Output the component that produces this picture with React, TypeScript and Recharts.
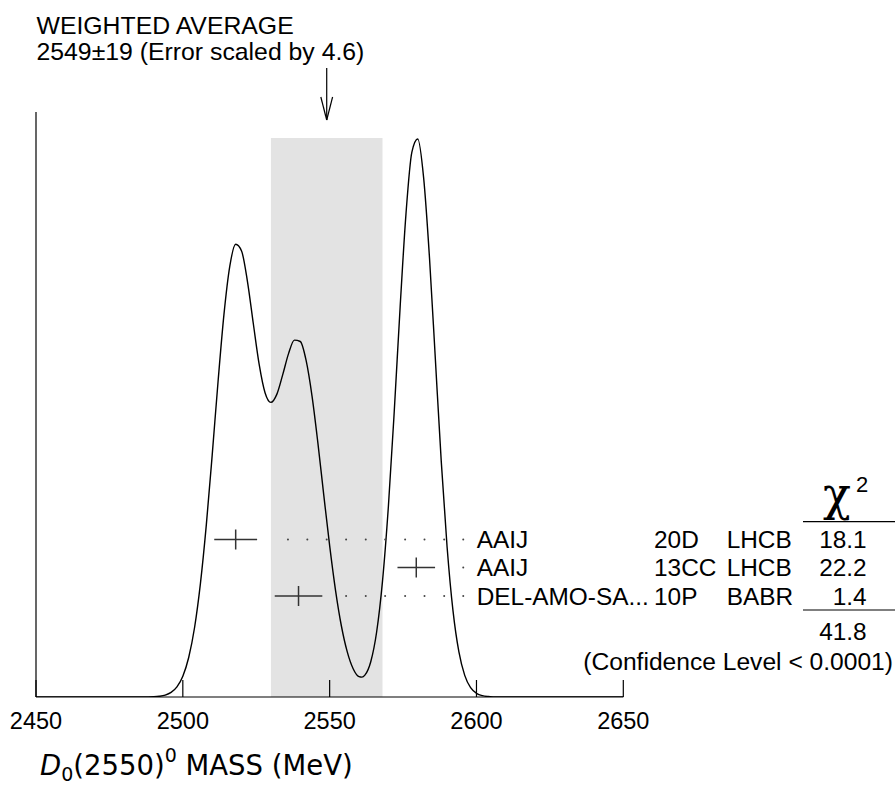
import React from 'react';
import { ComposedChart, Line, XAxis, YAxis, ReferenceArea, ReferenceLine, Scatter, ErrorBar } from 'recharts';

// ---- data ----
const massTicks = [2450, 2500, 2550, 2600, 2650];

const curveMass = [2450, 2470, 2480, 2484, 2486, 2488, 2490, 2492, 2494, 2496, 2498, 2500, 2502, 2504, 2506, 2508, 2510, 2512, 2514, 2516, 2518, 2520, 2522, 2524, 2526, 2528, 2530, 2532, 2534, 2536, 2538, 2540, 2542, 2544, 2546, 2548, 2550, 2552, 2554, 2556, 2558, 2560, 2561, 2562, 2564, 2566, 2568, 2570, 2572, 2574, 2576, 2578, 2580, 2582, 2584, 2586, 2588, 2590, 2592, 2594, 2596, 2598, 2600, 2602, 2604, 2606, 2608, 2610, 2630, 2650];
const curveHeight = [0, 0, 0, 0.01, 0.03, 0.09, 0.27, 0.75, 1.9, 4.6, 10.1, 20.8, 39.5, 69.5, 113.6, 172.1, 241.9, 315.5, 382.4, 430.9, 452.7, 446.0, 415.7, 373.5, 332.6, 304.3, 294.6, 302.6, 322.1, 343.4, 356.9, 355.5, 336.3, 300.9, 253.9, 201.9, 151.3, 106.7, 71.0, 45.1, 28.3, 20.4, 19.9, 21.9, 35.3, 65.0, 115.9, 190.5, 285.7, 389.8, 483.4, 544.9, 558.0, 519.4, 439.3, 337.7, 235.9, 149.8, 86.4, 45.3, 21.6, 9.3, 3.7, 1.3, 0.43, 0.13, 0.03, 0, 0, 0];

const avgMass = 2549;
const avgErr = 19;
const errScale = 4.6;
const bandTop = 559;

const measurementNames = ['AAIJ', 'AAIJ', 'DEL-AMO-SA...'];
const measurementRefs = ['20D', '13CC', '10P'];
const measurementExps = ['LHCB', 'LHCB', 'BABR'];
const measurementValues = [2518.0, 2579.5, 2539.4];
const measurementErrors = [7.3, 6.4, 8.1];
const measurementRowLevel = [157.5, 129.5, 101];
const chi2Values = ['18.1', '22.2', '1.4'];
const chi2Total = '41.8';
const confidenceText = '(Confidence Level < 0.0001)';

const leaderDots = [
  [2535.8, 2542.4, 2549.0, 2555.6, 2562.3, 2568.9, 2575.7, 2582.3, 2589.0, 2595.5],
  [2595.5],
  [2555.6, 2562.3, 2568.9, 2575.7, 2582.3, 2589.0, 2595.5],
];

// ---- derived tables ----
const curveData = curveMass.map((m, i) => ({ m, y: curveHeight[i] }));
const crossData = measurementValues.map((m, i) => ({ m, y: measurementRowLevel[i], err: measurementErrors[i] }));
const dotData = leaderDots.flatMap((row, i) => row.map((m) => ({ m, y: measurementRowLevel[i] })));

const W = 895;
const H = 793;
const FONT = '"Liberation Sans", Arial, Helvetica, sans-serif';
const TITLE_FONT = '"DejaVu Sans", sans-serif';

const MassTick = (props: any) => {
  const { x, y, payload } = props;
  return (
    <g>
      <line x1={x} x2={x} y1={y} y2={y - 17} stroke="#000" strokeWidth={1.2} />
      <text x={x} y={y + 31.5} textAnchor="middle" fontFamily={FONT} fontSize={23.5} fill="#000">
        {payload.value}
      </text>
    </g>
  );
};

const CrossShape = (p: any) => (
  <line x1={p.cx} x2={p.cx} y1={p.cy - 10} y2={p.cy + 10} stroke="#333" strokeWidth={1.5} />
);
const DotShape = (p: any) => <circle cx={p.cx} cy={p.cy} r={1} fill="#444" />;

export default function App() {
  const rowY = [548, 576, 604.5];
  return (
    <div style={{ position: 'absolute', left: 0, top: 0, width: W, height: H, background: '#fff' }}>
      <ComposedChart
        width={W}
        height={H}
        margin={{ top: 112, right: 271.7, bottom: 66, left: 26 }}
      >
        <ReferenceArea x1={avgMass - avgErr} x2={avgMass + avgErr} y1={0} y2={bandTop} fill="#e3e3e3" fillOpacity={1} stroke="none" ifOverflow="visible" />
        <XAxis
          dataKey="m"
          type="number"
          domain={[2450, 2650]}
          ticks={massTicks}
          allowDataOverflow
          height={30}
          tickSize={0}
          tickMargin={0}
          tickLine={false}
          axisLine={{ stroke: '#000', strokeWidth: 1.2 }}
          tick={<MassTick />}
          interval={0}
        />
        <YAxis
          dataKey="y"
          type="number"
          domain={[0, 585]}
          allowDataOverflow
          width={10}
          tick={false}
          tickLine={false}
          axisLine={{ stroke: '#000', strokeWidth: 1.2 }}
        />
        <Line data={curveData} dataKey="y" type="monotone" stroke="#000" strokeWidth={1.4} dot={false} isAnimationActive={false} />
        <Scatter data={dotData} dataKey="y" shape={DotShape} isAnimationActive={false} />
        <Scatter data={crossData} dataKey="y" shape={CrossShape} isAnimationActive={false}>
          <ErrorBar dataKey="err" direction="x" width={0} stroke="#333" strokeWidth={1.5} />
        </Scatter>
        <ReferenceLine segment={[{ x: avgMass, y: 629 }, { x: avgMass, y: 577 }]} stroke="#000" strokeWidth={1.2} ifOverflow="visible" />
        <ReferenceLine segment={[{ x: avgMass - 2, y: 600 }, { x: avgMass, y: 577 }]} stroke="#000" strokeWidth={1.2} ifOverflow="visible" />
        <ReferenceLine segment={[{ x: avgMass + 2, y: 600 }, { x: avgMass, y: 577 }]} stroke="#000" strokeWidth={1.2} ifOverflow="visible" />
      </ComposedChart>
      <svg width={W} height={H} style={{ position: 'absolute', left: 0, top: 0, pointerEvents: 'none' }}>
        <g fontFamily={FONT} fill="#000">
          <text x={36.5} y={33.5} fontSize={24.8}>WEIGHTED AVERAGE</text>
          <text x={36.5} y={59.5} fontSize={24.8}>{`${avgMass}\u00b1${avgErr} (Error scaled by ${errScale})`}</text>
          {measurementNames.map((n, i) => (
            <g key={i} fontSize={24.4}>
              <text x={476.7} y={rowY[i]}>{n}</text>
              <text x={654} y={rowY[i]}>{measurementRefs[i]}</text>
              <text x={726.7} y={rowY[i]}>{measurementExps[i]}</text>
              <text x={866.7} y={rowY[i]} textAnchor="end">{chi2Values[i]}</text>
            </g>
          ))}
          <text x={866.7} y={640} textAnchor="end" fontSize={24.4}>{chi2Total}</text>
          <text x={893} y={670} textAnchor="end" fontSize={24.6}>{confidenceText}</text>
        </g>
        <text x={823} y={510} fontFamily='"DejaVu Serif", serif' fontSize={46} fill="#000">χ</text>
        <text x={856} y={492} fontFamily={FONT} fontSize={22} fill="#000">2</text>
        <line x1={803} x2={895} y1={521.7} y2={521.7} stroke="#000" strokeWidth={1.2} />
        <line x1={803} x2={895} y1={610} y2={610} stroke="#000" strokeWidth={1.2} />
        <text x={40} y={775} fontFamily={TITLE_FONT} fontSize={27.5} fill="#000">
          <tspan fontStyle="italic">D</tspan>
          <tspan fontSize={19} dy={6}>0</tspan>
          <tspan dy={-6}>(2550)</tspan>
          <tspan fontSize={19} dy={-13}>0</tspan>
          <tspan dy={13}> MASS (MeV)</tspan>
        </text>
      </svg>
    </div>
  );
}
